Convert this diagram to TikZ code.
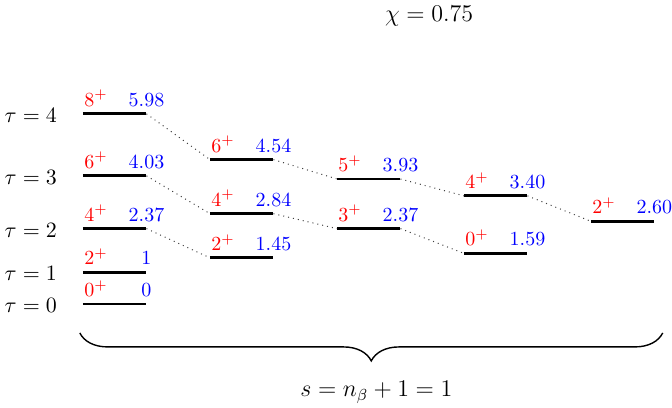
\documentclass[tikz,border=0pt]{standalone}
\usepackage{amsmath}
\usetikzlibrary{decorations.pathreplacing}

\tikzset{
  level/.style={line width=1.4pt},
  spin/.style={pos=0, anchor=base west, inner sep=0pt, yshift=3.8pt, text=red},
  energy/.style={pos=1, anchor=base, inner sep=0pt, yshift=3.8pt, text=blue},
  link/.style={dotted, line width=0.5pt, black!75},
  taulabel/.style={anchor=east, font=\fontsize{11}{13}\selectfont, yshift=-0.8pt}
}

\begin{document}
\begin{tikzpicture}[x=31.75pt, y=15.9pt]
  \useasboundingbox (-1.307,-3.27) rectangle (9.276,9.56);
  % tau = 0 ... 4
  \draw[level] (0,0) coordinate (a0l) -- node[spin]{$0^+$} node[energy]{$0$} (1,0) coordinate (a0r);
  \draw[level] (0,1) coordinate (a2l) -- node[spin]{$2^+$} node[energy]{$1$} (1,1) coordinate (a2r);
  \draw[level] (0,2.37) coordinate (a4l) -- node[spin]{$4^+$} node[energy]{$2.37$} (1,2.37) coordinate (a4r);
  \draw[level] (0,4.03) coordinate (a6l) -- node[spin]{$6^+$} node[energy]{$4.03$} (1,4.03) coordinate (a6r);
  \draw[level] (0,5.98) coordinate (a8l) -- node[spin]{$8^+$} node[energy]{$5.98$} (1,5.98) coordinate (a8r);
  \node[taulabel] (tau0) at (-0.3,0) {$\tau=0$};
  \node[taulabel] (tau1) at (-0.3,1) {$\tau=1$};
  \node[taulabel] (tau2) at (-0.3,2.37) {$\tau=2$};
  \node[taulabel] (tau3) at (-0.3,4.03) {$\tau=3$};
  \node[taulabel] (tau4) at (-0.3,5.98) {$\tau=4$};
  % second column
  \draw[level] (2,1.45) coordinate (b2l) -- node[spin]{$2^+$} node[energy]{$1.45$} (3,1.45) coordinate (b2r);
  \draw[level] (2,2.84) coordinate (b4l) -- node[spin]{$4^+$} node[energy]{$2.84$} (3,2.84) coordinate (b4r);
  \draw[level] (2,4.54) coordinate (b6l) -- node[spin]{$6^+$} node[energy]{$4.54$} (3,4.54) coordinate (b6r);
  % third column
  \draw[level] (4,2.37) coordinate (c3l) -- node[spin]{$3^+$} node[energy]{$2.37$} (5,2.37) coordinate (c3r);
  \draw[level] (4,3.93) coordinate (c5l) -- node[spin]{$5^+$} node[energy]{$3.93$} (5,3.93) coordinate (c5r);
  % fourth and fifth column
  \draw[level] (6,1.59) coordinate (d0l) -- node[spin]{$0^+$} node[energy]{$1.59$} (7,1.59) coordinate (d0r);
  \draw[level] (6,3.40) coordinate (d4l) -- node[spin]{$4^+$} node[energy]{$3.40$} (7,3.40) coordinate (d4r);
  \draw[level] (8,2.60) coordinate (e2l) -- node[spin]{$2^+$} node[energy]{$2.60$} (9,2.60) coordinate (e2r);
  % dotted links
  \draw[link] (a8r) -- (b6l);
  \draw[link] (a6r) -- (b4l);
  \draw[link] (a4r) -- (b2l);
  \draw[link] (b6r) -- (c5l);
  \draw[link] (b4r) -- (c3l);
  \draw[link] (c5r) -- (d4l);
  \draw[link] (c3r) -- (d0l);
  \draw[link] (d4r) -- (e2l);
  % brace and labels
  \draw[line width=0.7pt, decorate, decoration={brace, mirror, amplitude=14pt}]
    (-0.05,-0.91) coordinate (bl) -- (9.13,-0.91) coordinate (br);
  \node[font=\fontsize{11.5}{14}\selectfont] (sval) at (4.62,-2.77) {$s=n_\beta+1=1$};
  \node[font=\fontsize{11.5}{14}\selectfont] (chi) at (5.45,9.06) {$\chi=0.75$};
\end{tikzpicture}
\end{document}
